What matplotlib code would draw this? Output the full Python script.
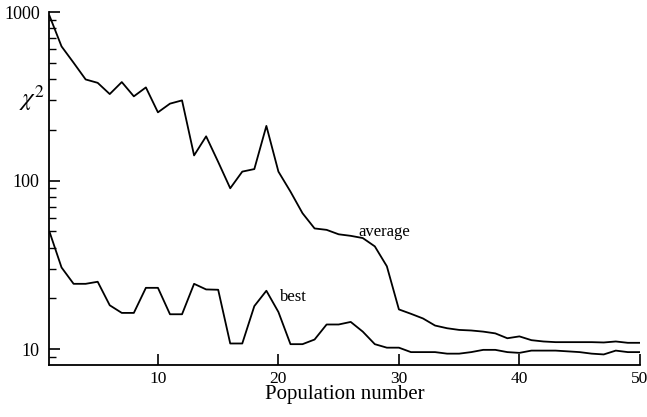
import numpy as np
import matplotlib
matplotlib.use('Agg')
import matplotlib.pyplot as plt
from matplotlib.ticker import LogLocator, NullFormatter, FixedLocator, FixedFormatter

plt.rcParams['font.family'] = 'Liberation Serif'
plt.rcParams['mathtext.fontset'] = 'stix'

# population number
population = np.arange(1, 51)

# chi^2 of the population average
average = [950, 625, 500, 398, 380, 326, 384, 316, 357, 254,
           286, 299, 141, 183, 129, 90, 113, 117, 211, 113,
           86, 64, 52, 51, 48, 47, 45.6, 40.7, 31, 17.2,
           16.2, 15.2, 13.8, 13.3, 13.0, 12.9, 12.7, 12.4, 11.6, 11.9,
           11.3, 11.1, 11.0, 11.0, 11.0, 11.0, 10.95, 11.1, 10.9, 10.9]

# chi^2 of the best member
best = [49.7, 30.5, 24.4, 24.4, 25.1, 18.2, 16.4, 16.4, 23.1, 23.1,
        16.1, 16.1, 24.4, 22.6, 22.5, 10.8, 10.8, 18.0, 22.2, 16.6,
        10.7, 10.7, 11.4, 14.0, 14.0, 14.5, 12.7, 10.7, 10.2, 10.2,
        9.6, 9.6, 9.6, 9.4, 9.4, 9.6, 9.9, 9.9, 9.6, 9.5,
        9.8, 9.8, 9.8, 9.7, 9.6, 9.4, 9.3, 9.8, 9.6, 9.6]

fig = plt.figure(figsize=(6.47, 4.17), dpi=100)
ax = fig.add_axes([0.0765, 0.1247, 0.9125, 0.8465])

ax.plot(population, average, color='black', lw=1.3)
ax.plot(population, best, color='black', lw=1.3)

ax.set_yscale('log')
ax.set_xlim(1, 50)
ax.set_ylim(8.05, 1000)

ax.text(26.6, 49.7, 'average', fontsize=12, va='center', ha='left')
ax.text(20.1, 20.4, 'best', fontsize=12, va='center', ha='left')

ax.spines['top'].set_visible(False)
ax.spines['right'].set_visible(False)
for s in ['left', 'bottom']:
    ax.spines[s].set_linewidth(1.3)

ax.yaxis.set_major_locator(FixedLocator([10, 100, 1000]))
ax.yaxis.set_major_formatter(FixedFormatter(['10', '100', '1000']))
ax.yaxis.set_minor_locator(LogLocator(base=10, subs=np.arange(2, 10)))
ax.yaxis.set_minor_formatter(NullFormatter())
ax.set_xticks([10, 20, 30, 40, 50])

ax.tick_params(axis='both', which='major', direction='in', length=8, width=1.2,
               labelsize=13, pad=7)
ax.tick_params(axis='x', which='major', pad=4, labelsize=12.5)
ax.tick_params(axis='y', which='minor', direction='in', length=5, width=1.0)

ax.set_xlabel('Population number', fontsize=15, labelpad=-1)
ax.set_ylabel('$\\chi^2$', fontsize=18, rotation=0)
ax.yaxis.set_label_coords(-0.03, 0.755)
ax.yaxis.label.set_va('center')
ax.yaxis.label.set_ha('center')

fig.savefig('out.png', dpi=100)
